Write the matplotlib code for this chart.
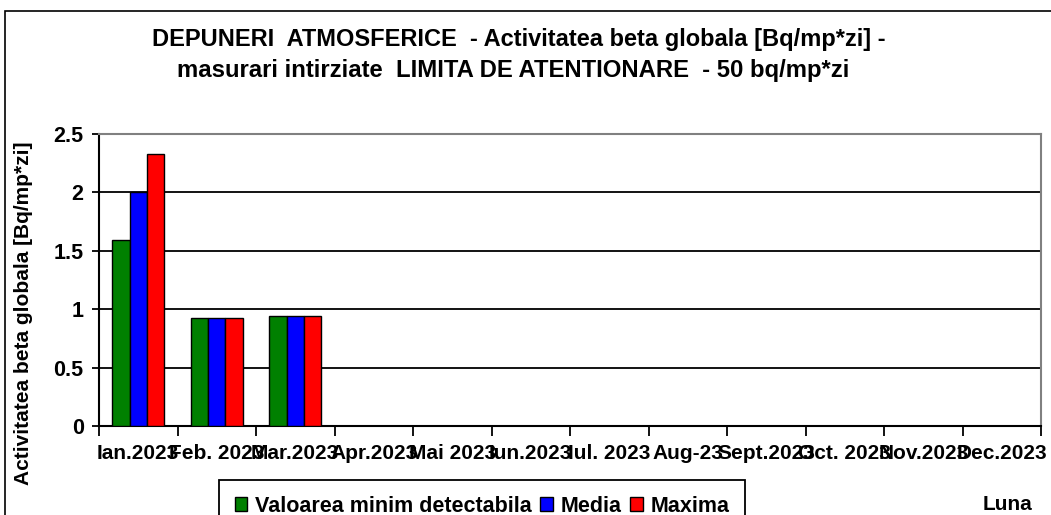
import matplotlib
matplotlib.use("Agg")
import matplotlib.pyplot as plt
from matplotlib.patches import Rectangle
import numpy as np

months = ['Ian.2023', 'Feb. 2023', 'Mar.2023', 'Apr.2023', 'Mai 2023', 'Iun.2023',
          'Iul. 2023', 'Aug-23', 'Sept.2023', 'Oct. 2023', 'Nov.2023', 'Dec.2023']
val_min = [1.59, 0.925, 0.94]
val_media = [2.0, 0.925, 0.94]
val_max = [2.33, 0.925, 0.94]
series_names = ['Valoarea minim detectabila', 'Media', 'Maxima']
series_colors = ['#008000', '#0000FF', '#FF0000']
yticks = [0, 0.5, 1, 1.5, 2, 2.5]
yticklabels = ['0', '0.5', '1', '1.5', '2', '2.5']

plt.rcParams['font.family'] = ['Liberation Sans', 'DejaVu Sans']
plt.rcParams['font.weight'] = 'bold'

W, H = 1051, 515
fig = plt.figure(figsize=(W / 100, H / 100), dpi=100)

def fx(px):
    return px / W

def fy(py):
    return 1 - py / H

# outer chart border
fig.patches.append(Rectangle((fx(5), fy(560)), fx(1100), fy(11) - fy(560),
                             transform=fig.transFigure, fill=False,
                             edgecolor='black', linewidth=1.2))

ax = fig.add_axes([fx(99), fy(426), fx(1041) - fx(99), fy(134) - fy(426)])

bw = 1 / 4.5
x = np.arange(len(months))
for i, (vals, name, col) in enumerate(zip([val_min, val_media, val_max], series_names, series_colors)):
    xs = np.arange(len(vals)) + (i - 1) * bw
    ax.bar(xs, vals, width=bw, color=col, edgecolor='black', linewidth=1.0,
           label=name, zorder=3)

ax.set_xlim(-0.5, len(months) - 0.5)
ax.set_ylim(0, 2.5)
ax.set_yticks(yticks)
ax.set_yticklabels(yticklabels, fontsize=15.5, fontweight='bold')
ax.set_xticks(x)
ax.set_xticklabels(months, fontsize=15, fontweight='bold')
ax.set_xticks(np.arange(len(months) + 1) - 0.5, minor=True)
ax.tick_params(axis='x', which='major', length=0, pad=13)
ax.tick_params(axis='x', which='minor', length=7, width=1.3, direction='out')
ax.tick_params(axis='y', which='major', length=5, width=1.3, direction='out', pad=6)

for yv in yticks[1:-1]:
    ax.axhline(yv, color='black', linewidth=1.3, zorder=1)

ax.spines['left'].set_color('black')
ax.spines['left'].set_linewidth(1.5)
ax.spines['bottom'].set_color('black')
ax.spines['bottom'].set_linewidth(1.5)
ax.spines['top'].set_color('#808080')
ax.spines['top'].set_linewidth(1.5)
ax.spines['right'].set_color('#808080')
ax.spines['right'].set_linewidth(1.5)

ax.set_ylabel('Activitatea beta globala [Bq/mp*zi]', fontsize=15, fontweight='bold')
ax.yaxis.set_label_coords(fx(25) - fx(99), (fy(313) - fy(426)) / (fy(134) - fy(426)))

fig.text(fx(519), fy(46), 'DEPUNERI  ATMOSFERICE  - Activitatea beta globala [Bq/mp*zi] -',
         ha='center', va='baseline', fontsize=17, fontweight='bold')
fig.text(fx(513), fy(77), 'masurari intirziate  LIMITA DE ATENTIONARE  - 50 bq/mp*zi',
         ha='center', va='baseline', fontsize=17.2, fontweight='bold')

fig.text(fx(1007), fy(505), 'Luna', ha='center', va='center', fontsize=15, fontweight='bold')

leg = fig.legend(loc='upper left', bbox_to_anchor=(fx(219), fy(480)), ncol=3,
                 frameon=True, fancybox=False, edgecolor='black', framealpha=1,
                 prop={'size': 15.5, 'weight': 'bold'}, handlelength=0.6, handleheight=0.6,
                 handletextpad=0.35, columnspacing=0.4, borderpad=0.72,
                 borderaxespad=0)
leg.get_frame().set_linewidth(1.3)

fig.savefig('out.png', dpi=100)
